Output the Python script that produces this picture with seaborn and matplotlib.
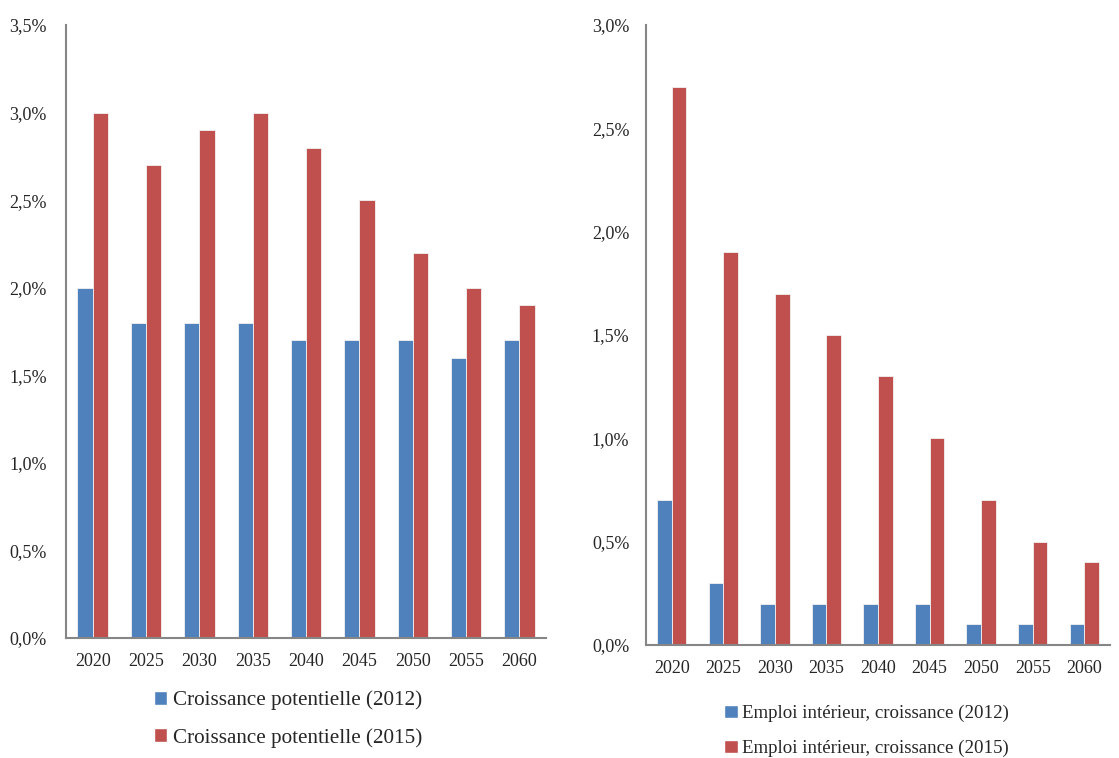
import numpy as np
import pandas as pd
import matplotlib
matplotlib.use("Agg")
import matplotlib.pyplot as plt
import seaborn as sns
from matplotlib.patches import Patch
from matplotlib.ticker import FuncFormatter

years = ["2020", "2025", "2030", "2035", "2040", "2045", "2050", "2055", "2060"]
croissance_2012 = [2.0, 1.8, 1.8, 1.8, 1.7, 1.7, 1.7, 1.6, 1.7]
croissance_2015 = [3.0, 2.7, 2.9, 3.0, 2.8, 2.5, 2.2, 2.0, 1.9]
emploi_2012 = [0.7, 0.3, 0.2, 0.2, 0.2, 0.2, 0.1, 0.1, 0.1]
emploi_2015 = [2.7, 1.9, 1.7, 1.5, 1.3, 1.0, 0.7, 0.5, 0.4]

left_labels = ["Croissance potentielle (2012)", "Croissance potentielle (2015)"]
right_labels = ["Emploi intérieur, croissance (2012)", "Emploi intérieur, croissance (2015)"]

BLUE = "#4F81BD"
RED = "#C0504D"
GREY = "#868686"

sns.set_style("white")
plt.rcParams["font.family"] = ["Liberation Serif", "DejaVu Serif"]


def make_df(a, b, labels):
    return pd.DataFrame({
        "year": years * 2,
        "value": a + b,
        "serie": [labels[0]] * len(years) + [labels[1]] * len(years),
    })


def style_axis(ax, ymax, ypad):
    ax.set_xlim(-0.5, len(years) - 0.5)
    ax.set_ylim(0, ymax)
    ax.set_yticks(np.arange(0, ymax + 0.01, 0.5))
    ax.yaxis.set_major_formatter(FuncFormatter(lambda v, p: f"{v:.1f}%".replace(".", ",")))
    # ticks on category boundaries, labels centred
    ax.set_xticks(np.arange(-0.5, len(years), 1.0))
    ax.set_xticklabels([])
    ax.set_xticks(np.arange(len(years)), minor=True)
    ax.set_xticklabels(years, minor=True)
    ax.tick_params(axis="x", which="major", length=5, width=1.2, color=GREY, direction="out")
    ax.tick_params(axis="x", which="minor", length=0, pad=11, labelsize=13)
    ax.tick_params(axis="y", length=5, width=1.2, color=GREY, direction="out", labelsize=13, pad=ypad)
    for s in ["top", "right"]:
        ax.spines[s].set_visible(False)
    for s in ["left", "bottom"]:
        ax.spines[s].set_color(GREY)
        ax.spines[s].set_linewidth(1.5)
    ax.set_xlabel("")
    ax.set_ylabel("")
    ax.grid(False)


fig = plt.figure(figsize=(11.19, 7.58), dpi=100)
ax1 = fig.add_axes([0.059, 0.1583, 0.429, 0.8087])
ax2 = fig.add_axes([0.5773, 0.149, 0.4147, 0.818])

for ax, a, b, labels, ymax, ypad in [
    (ax1, croissance_2012, croissance_2015, left_labels, 3.5, 9),
    (ax2, emploi_2012, emploi_2015, right_labels, 3.0, 7),
]:
    df = make_df(a, b, labels)
    sns.barplot(data=df, x="year", y="value", hue="serie", palette=[BLUE, RED],
                width=0.57, dodge=True, saturation=1, edgecolor="#f2f2f2",
                linewidth=0.6, legend=False, ax=ax)
    style_axis(ax, ymax, ypad)

h1 = [Patch(facecolor=BLUE), Patch(facecolor=RED)]
fig.legend(h1, left_labels, loc="center left", bbox_to_anchor=(143 / 1119, 1 - 719 / 758),
           frameon=False, fontsize=15.2, handlelength=0.65, handleheight=0.65,
           handletextpad=0.25, labelspacing=0.85, borderpad=0)
fig.legend(h1, right_labels, loc="center left", bbox_to_anchor=(715 / 1119, 1 - 731 / 758),
           frameon=False, fontsize=13.6, handlelength=0.7, handleheight=0.7,
           handletextpad=0.25, labelspacing=0.9, borderpad=0)

fig.savefig("out.png", dpi=100)
